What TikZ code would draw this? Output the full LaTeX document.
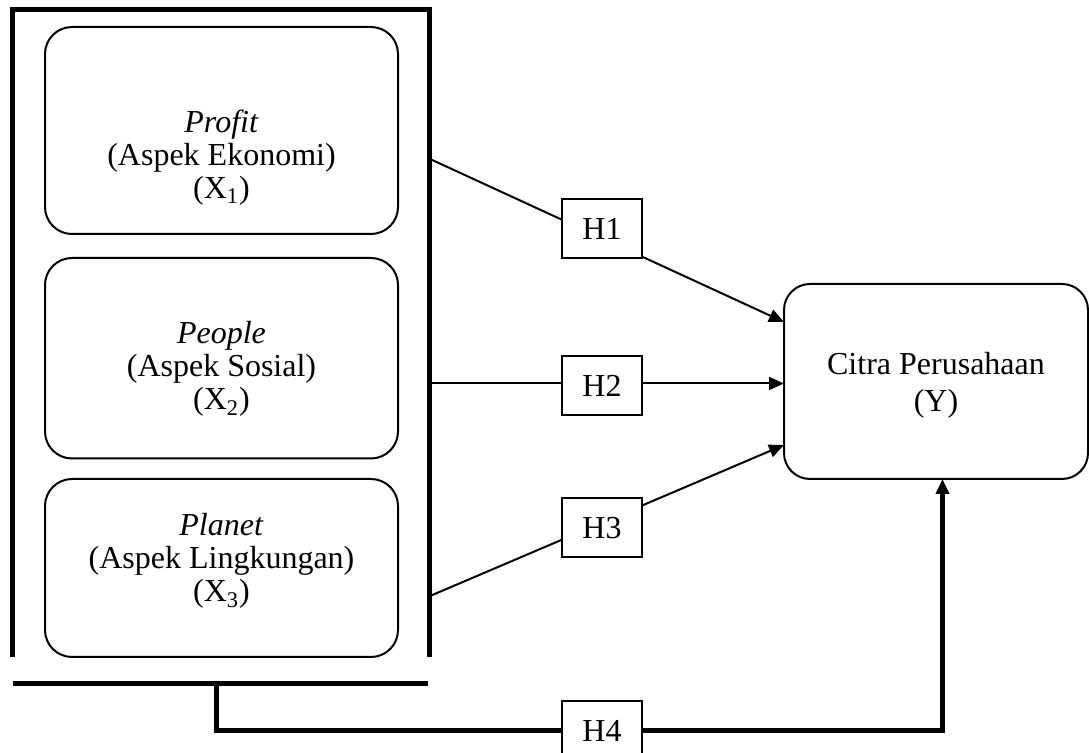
\documentclass[tikz,border=0pt]{standalone}
\usepackage{fontspec}
\setmainfont{Liberation Serif}
\usetikzlibrary{arrows.meta}
\begin{document}
\begin{tikzpicture}[x=0.5pt,y=-0.5pt,
  thinline/.style={line width=1pt},
  thickline/.style={line width=2.5pt},
  conn/.style={thinline,-{Triangle[length=7.5pt,width=6.5pt]}},
  xbox/.style={draw,line width=1pt,rounded corners=13.5pt,minimum width=176.5pt,inner sep=0pt},
  ybox/.style={draw,line width=1pt,rounded corners=13pt,minimum width=152pt,minimum height=97.5pt,inner sep=0pt},
  hbox/.style={draw,fill=white,line width=1pt,minimum width=40pt,minimum height=29.5pt,inner sep=0pt,font=\fontsize{16}{16}\selectfont},
  txt/.style={anchor=base,inner sep=0pt,font=\fontsize{16}{16}\selectfont}]
\useasboundingbox (0,0) rectangle (1089,753);
% outer bracket
\draw[thickline,line join=miter] (12.5,657) |- (429.5,9.5) -- (429.5,657);
\draw[thickline] (12.5,683.5) -- (428,683.5);
% variable boxes
\node[xbox,minimum height=103.5pt] (x1) at (221.5,130.5) {};
\node[xbox,minimum height=100.25pt] (x2) at (221.5,358.25) {};
\node[xbox,minimum height=89pt] (x3) at (221.5,568) {};
\node[txt] (x1a) at (221.5,132.7) {\textit{Profit}};
\node[txt] (x1b) at (221.5,165.5) {(Aspek Ekonomi)};
\node[txt] (x1c) at (221.5,198.5) {(X\textsubscript{1})};
\node[txt] (x2a) at (221.5,343.5) {\textit{People}};
\node[txt] (x2b) at (221.5,376.7) {(Aspek Sosial)};
\node[txt] (x2c) at (221.5,410) {(X\textsubscript{2})};
\node[txt] (x3a) at (221.5,536) {\textit{Planet}};
\node[txt] (x3b) at (221.5,569) {(Aspek Lingkungan)};
\node[txt] (x3c) at (221.5,602) {(X\textsubscript{3})};
% dependent box
\node[ybox] (Y) at (936,381.5) {};
\node[txt] (ya) at (936,375) {Citra Perusahaan};
\node[txt] (yb) at (936,411.7) {(Y)};
% connector end points
\coordinate (s1) at (430,159);
\coordinate (s2) at (430,383.5);
\coordinate (s3) at (430,596);
\coordinate (t1) at (784,322);
\coordinate (t2) at (784,383.5);
\coordinate (t3) at (784,445);
\coordinate (b4) at (216,683.5);
\coordinate (y4) at (942.5,479);
\draw[conn] (s1) -- (t1);
\draw[conn] (s2) -- (t2);
\draw[conn] (s3) -- (t3);
% hypothesis boxes
\node[hbox] (h1) at (602,228.5) {H1};
\node[hbox] (h2) at (602,385.5) {H2};
\node[hbox] (h3) at (602,528) {H3};
\node[hbox] (h4) at (602,730.5) {H4};
\draw[thickline] (b4) |- (h4.west);
\draw[thickline,-{Triangle[length=7.5pt,width=6.5pt]}] (h4.east) -| (y4);
\end{tikzpicture}
\end{document}
